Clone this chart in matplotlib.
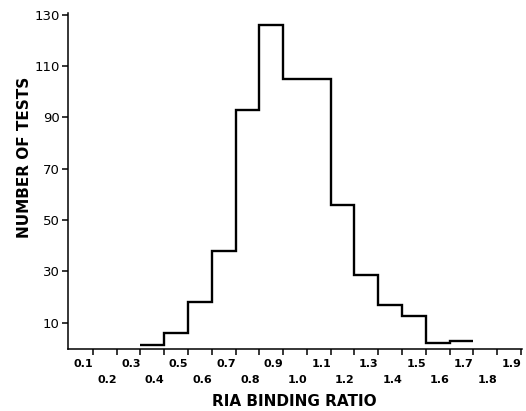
import matplotlib
matplotlib.use("Agg")
import matplotlib.pyplot as plt
import numpy as np

# Data: histogram bins (centers) and counts
bin_centers = [0.4, 0.5, 0.6, 0.7, 0.8, 0.9, 1.0, 1.1, 1.2, 1.3, 1.4, 1.5, 1.6, 1.7]
counts = [1.5, 6, 18, 38, 93, 126, 105, 105, 56, 28.5, 17, 12.5, 2, 3]
bin_width = 0.1
tick_labels = ["0.1", "0.2", "0.3", "0.4", "0.5", "0.6", "0.7", "0.8", "0.9", "1.0",
               "1.1", "1.2", "1.3", "1.4", "1.5", "1.6", "1.7", "1.8", "1.9"]
label_values = [float(t) for t in tick_labels]
y_ticks = [10, 30, 50, 70, 90, 110, 130]

plt.rcParams['font.family'] = ['DejaVu Sans']

fig = plt.figure(figsize=(5.26, 4.11), dpi=100)
ax = fig.add_axes([68/526, 1 - 348.5/411, (522-68)/526, (348.5-13.3)/411])

edges = np.concatenate([[bin_centers[0] - bin_width/2],
                        np.array(bin_centers) + bin_width/2])
ax.stairs(counts, edges, color='black', linewidth=1.7, baseline=None)

ax.set_xlim(0.045, 1.955)
ax.set_ylim(0, 130.5)

for s in ['top', 'right']:
    ax.spines[s].set_visible(False)
for s in ['left', 'bottom']:
    ax.spines[s].set_linewidth(1.1)

# ticks at bin edges
xt = np.array(label_values) + bin_width/2
ax.set_xticks(xt)
ax.set_xticklabels([])
ax.tick_params(axis='x', direction='out', length=4.5, width=1.1)
ax.set_yticks(y_ticks)
ax.set_yticklabels([str(v) for v in y_ticks], fontsize=9.5)
ax.tick_params(axis='y', direction='out', length=4, width=1.1, pad=2)

trans = ax.get_xaxis_transform()
for i, (v, t) in enumerate(zip(label_values, tick_labels)):
    yoff = -0.045 if i % 2 == 0 else -0.093
    ax.text(v + 0.01, yoff, t, transform=trans, ha='center', va='center',
            fontsize=8, fontweight='bold')

fig.text(294.5/526, 1 - 401.5/411, "RIA BINDING RATIO", ha='center', va='center',
         fontsize=11, fontweight='bold')
fig.text(25/526, 1 - 157/411, "NUMBER OF TESTS", ha='center', va='center',
         rotation=90, fontsize=11, fontweight='bold')

fig.savefig("out.png", dpi=100)
